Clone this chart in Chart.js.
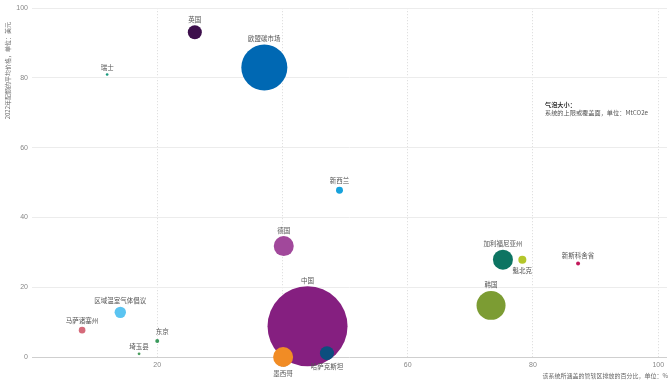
<!DOCTYPE html>
<html>
<head>
<meta charset="utf-8">
<script src="https://cdn.jsdelivr.net/npm/chart.js@4"></script>
<style>
  html, body { margin: 0; padding: 0; background: #ffffff; }
  #wrap { width: 672px; height: 383px; position: relative; }
</style>
</head>
<body>
<div id="wrap"><canvas id="c"></canvas></div>
<script>
// ---- data ----
const categories = ['英国','欧盟碳市场','瑞士','新西兰','德国','中国','区域温室气体倡议','马萨诸塞州','东京','埼玉县','墨西哥','哈萨克斯坦','加利福尼亚州','魁北克','新斯科舍省','韩国'];
const coverage = [26.0, 37.1, 12.0, 49.1, 40.2, 44.0, 14.1, 8.0, 20.0, 17.1, 40.1, 47.1, 75.2, 78.3, 87.2, 73.3];   // % of emissions covered
const price    = [93.1, 83.0, 81.0, 47.8, 31.8, 8.8, 12.8, 7.7, 4.6, 0.9, 0.0, 1.1, 27.9, 27.9, 26.8, 14.8];     // USD, 2022 average
const cap      = [138, 1490, 5, 34, 281, 4500, 91, 31, 11, 5.5, 281, 138, 281, 45, 11, 591];                     // MtCO2e
const xTicks = [20, 40, 60, 80, 100];
const yTicks = [0, 20, 40, 60, 80, 100];
const yTitle = '2022年配额的平均价格，单位：美元';
const xTitle = '该系统所涵盖的管辖区排放的百分比，单位：%';
const noteTitle = '气泡大小：';
const noteText = '系统的上限或覆盖面，单位：MtCO2e';

// ---- styles ----
const colors = ['#3d0f4c','#0068b3','#1a9a7e','#17a2dc','#a1489b','#851f80','#5bc4f1','#d56a7a','#3a9a5c','#4a9d5e','#f18c25','#0c4e7e','#0d7462','#b4c62b','#c2185a','#7c9c33'];
const labelPlace = { '墨西哥': 'below', '哈萨克斯坦': 'below', '魁北克': 'below', '东京': 'aboveRight' };
const CJK = '"Noto Sans CJK SC", "Noto Sans", sans-serif';
const radiusScale = 40 / Math.sqrt(4500);

const points = categories.map((n, i) => ({ x: coverage[i], y: price[i], r: radiusScale * Math.sqrt(cap[i]) }));

const labelPlugin = {
  id: 'labels',
  afterDatasetsDraw(chart) {
    const ctx = chart.ctx;
    const meta = chart.getDatasetMeta(0);
    ctx.save();
    ctx.font = '6.5px ' + CJK;
    ctx.fillStyle = '#555';
    ctx.textAlign = 'center';
    ctx.textBaseline = 'middle';
    meta.data.forEach((el, i) => {
      const name = categories[i];
      const r = points[i].r;
      const place = labelPlace[name] || 'above';
      let x = el.x, y = el.y;
      if (place === 'below') y = el.y + r + 6.5;
      else if (place === 'aboveRight') { x = el.x + 5; y = el.y - r - 7; }
      else y = el.y - r - 6;
      ctx.fillText(name, x, y);
    });
    ctx.restore();
  },
  afterDraw(chart) {
    const ctx = chart.ctx;
    ctx.save();
    ctx.fillStyle = '#666';
    ctx.font = '6px ' + CJK;
    // y title
    ctx.save();
    ctx.translate(8, 22);
    ctx.rotate(-Math.PI / 2);
    ctx.textAlign = 'right';
    ctx.textBaseline = 'middle';
    ctx.fillText(yTitle, 0, 0);
    ctx.restore();
    // x title
    ctx.textAlign = 'right';
    ctx.textBaseline = 'middle';
    ctx.fillText(xTitle, 668, 375.5);
    // note
    ctx.textAlign = 'left';
    ctx.fillStyle = '#333';
    ctx.font = 'bold 6.2px ' + CJK;
    ctx.fillText(noteTitle, 545, 105);
    ctx.font = '6.2px ' + CJK;
    ctx.fillStyle = '#555';
    ctx.fillText(noteText, 545, 113);
    ctx.restore();
  }
};

new Chart(document.getElementById('c'), {
  type: 'bubble',
  data: {
    datasets: [{
      data: points,
      backgroundColor: colors,
      borderWidth: 0,
      hoverRadius: 0,
      hoverBorderWidth: 0,
      clip: false
    }]
  },
  options: {
    responsive: true,
    maintainAspectRatio: false,
    animation: false,
    events: [],
    layout: { autoPadding: false, padding: { top: 6, right: 5, left: 0, bottom: 0 } },
    plugins: { legend: { display: false }, tooltip: { enabled: false } },
    scales: {
      x: {
        type: 'linear',
        min: 0,
        max: 101.4,
        afterBuildTicks: (s) => { s.ticks = xTicks.map(v => ({ value: v })); },
        afterFit: (s) => { s.height = 26; },
        grid: { color: '#d9d9d9', drawTicks: false, lineWidth: 1 },
        border: { display: false, dash: [1, 2] },
        ticks: { padding: 4, color: '#888', font: { size: 7, family: 'Liberation Sans, Arial, sans-serif' }, maxRotation: 0 }
      },
      y: {
        type: 'linear',
        min: 0,
        max: 100,
        afterBuildTicks: (s) => { s.ticks = yTicks.map(v => ({ value: v })); },
        afterFit: (s) => { s.width = 32; },
        grid: {
          drawTicks: false,
          lineWidth: 1,
          color: (c) => (c.tick && c.tick.value === 0) ? '#cfcfcf' : '#ececec'
        },
        border: { display: false },
        ticks: { padding: 4, color: '#888', font: { size: 7, family: 'Liberation Sans, Arial, sans-serif' } }
      }
    }
  },
  plugins: [labelPlugin]
});
</script>
</body>
</html>
